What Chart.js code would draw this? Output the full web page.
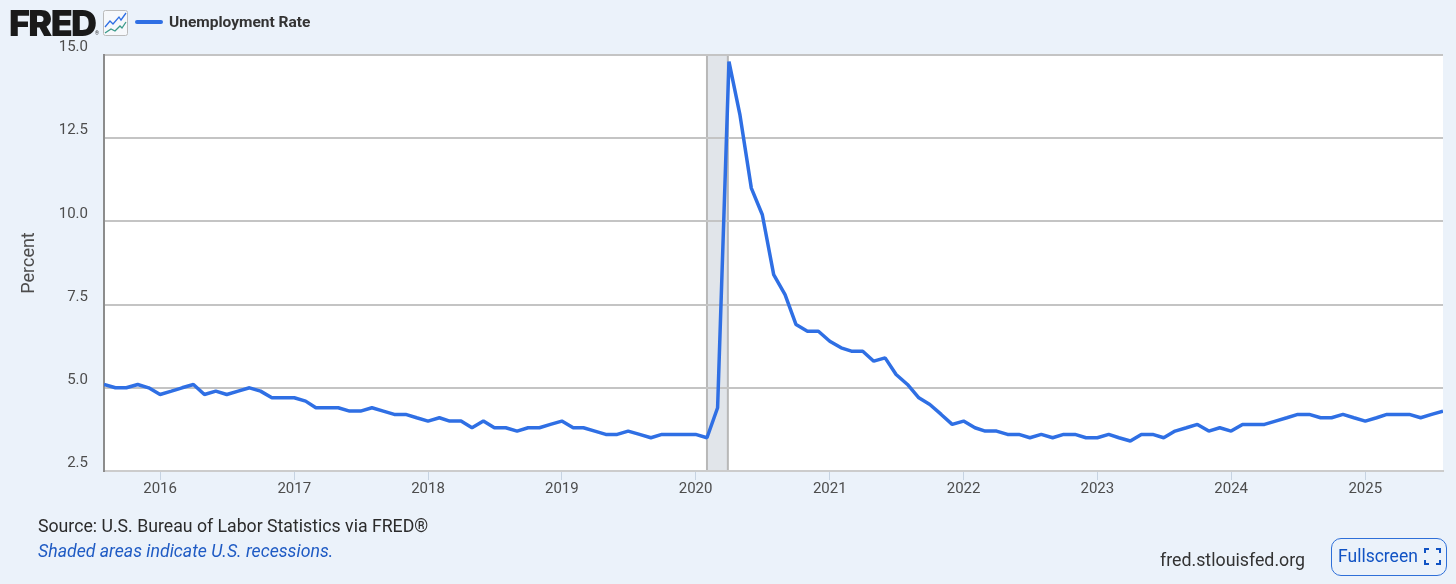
<!DOCTYPE html>
<html>
<head>
<meta charset="utf-8">
<title>Unemployment Rate</title>
<script src="https://cdn.jsdelivr.net/npm/chart.js@4"></script>
<style>
  html, body { margin: 0; padding: 0; }
  body { width: 1456px; height: 584px; background: #ebf2fa; position: relative; overflow: hidden; font-family: Roboto, sans-serif; }
  canvas { position: absolute; left: 0; top: 0; }
  .abs { position: absolute; white-space: nowrap; }
  #logo { left: 9px; top: 3px; font: 900 36px/40px Inter, sans-serif; letter-spacing: -1.7px; color: #1a1a1a; }
  #reg { left: 95px; top: 30px; font: 400 5px/6px Roboto, sans-serif; color: #333; }
  #legendLine { left: 135px; top: 20px; width: 28px; height: 4px; border-radius: 2px; background: #2f6fe4; }
  #legendText { left: 169px; top: 12px; font: 700 15.5px/20px Roboto, sans-serif; color: #333; }
  #source { left: 38px; top: 516px; font: 400 17.7px/20px Roboto, sans-serif; color: #2b2b2b; }
  #shaded { left: 38px; top: 541px; font: italic 400 17.7px/20px Roboto, sans-serif; color: #1f5bc4; }
  #site { left: 1160px; top: 550px; font: 400 17.8px/20px Roboto, sans-serif; color: #333; }
  #btn { left: 1331px; top: 538px; width: 114px; height: 36px; border: 1px solid #2e6fd8; border-radius: 10px; }
  #btnText { left: 1338px; top: 546px; font: 400 17.5px/20px Roboto, sans-serif; color: #1153c4; }
</style>
</head>
<body>
<canvas id="myChart" width="1456" height="584"></canvas>
<div class="abs" id="logo">FRED</div>
<div class="abs" id="reg">®</div>
<svg class="abs" style="left:103px;top:10px" width="25" height="26">
  <rect x="0.5" y="0.5" width="24" height="25" rx="2" fill="#f6f8fb" stroke="#bbbbbb"/>
  <polyline points="2,17 7,11 10,14 16,7 18,10 23,3" fill="none" stroke="#2f6fe4" stroke-width="1.3"/>
  <polyline points="2,23 8,19 12,21 17,16 19,18 23,12" fill="none" stroke="#3a9a8a" stroke-width="1.3"/>
</svg>
<div class="abs" id="legendLine"></div>
<div class="abs" id="legendText">Unemployment Rate</div>
<div class="abs" id="source">Source: U.S. Bureau of Labor Statistics via FRED®</div>
<div class="abs" id="shaded">Shaded areas indicate U.S. recessions.</div>
<div class="abs" id="site">fred.stlouisfed.org</div>
<div class="abs" id="btn"></div>
<div class="abs" id="btnText">Fullscreen</div>
<svg class="abs" style="left:1424px;top:548px" width="17" height="17" fill="none" stroke="#1153c4" stroke-width="2">
  <path d="M1 5V1H5M12 1H16V5M16 12V16H12M5 16H1V12"/>
</svg>
<script>
const startYear = 2015
const startMonth = 7  // Aug 2015, zero based
const unrate = [
  5.1, 5.0, 5.0, 5.1, 5.0,
  4.8, 4.9, 5.0, 5.1, 4.8, 4.9, 4.8, 4.9, 5.0, 4.9, 4.7, 4.7,
  4.7, 4.6, 4.4, 4.4, 4.4, 4.3, 4.3, 4.4, 4.3, 4.2, 4.2, 4.1,
  4.0, 4.1, 4.0, 4.0, 3.8, 4.0, 3.8, 3.8, 3.7, 3.8, 3.8, 3.9,
  4.0, 3.8, 3.8, 3.7, 3.6, 3.6, 3.7, 3.6, 3.5, 3.6, 3.6, 3.6,
  3.6, 3.5, 4.4, 14.8, 13.2, 11.0, 10.2, 8.4, 7.8, 6.9, 6.7, 6.7,
  6.4, 6.2, 6.1, 6.1, 5.8, 5.9, 5.4, 5.1, 4.7, 4.5, 4.2, 3.9,
  4.0, 3.8, 3.7, 3.7, 3.6, 3.6, 3.5, 3.6, 3.5, 3.6, 3.6, 3.5,
  3.5, 3.6, 3.5, 3.4, 3.6, 3.6, 3.5, 3.7, 3.8, 3.9, 3.7, 3.8,
  3.7, 3.9, 3.9, 3.9, 4.0, 4.1, 4.2, 4.2, 4.1, 4.1, 4.2, 4.1,
  4.0, 4.1, 4.2, 4.2, 4.2, 4.1, 4.2, 4.3
]
const yearTicks = [2016, 2017, 2018, 2019, 2020, 2021, 2022, 2023, 2024, 2025]
const yTicks = [2.5, 5.0, 7.5, 10.0, 12.5, 15.0]
const recession = [Date.UTC(2020, 1, 1), Date.UTC(2020, 2, 29)]

const points = unrate.map((v, i) => ({ x: Date.UTC(startYear, startMonth + i, 1), y: v }))

// white plot area and recession band, drawn before the grid so the grid stays on top
const plotBackground = {
  id: 'plotBackground',
  beforeDraw: (chart) => {
    const { ctx, chartArea, scales } = chart
    const x0 = scales.x.getPixelForValue(recession[0])
    const x1 = scales.x.getPixelForValue(recession[1])
    ctx.save()
    ctx.fillStyle = '#ffffff'
    ctx.fillRect(chartArea.left, chartArea.top, chartArea.width, chartArea.height)
    ctx.fillStyle = '#e1e5ea'
    ctx.fillRect(x0, chartArea.top, x1 - x0, chartArea.height)
    ctx.strokeStyle = '#b8b8b8'
    ctx.lineWidth = 2
    ctx.beginPath()
    ctx.moveTo(x0, chartArea.top)
    ctx.lineTo(x0, chartArea.bottom)
    ctx.moveTo(x1, chartArea.top)
    ctx.lineTo(x1, chartArea.bottom)
    ctx.stroke()
    ctx.restore()
  }
}

const myChart = new Chart(document.getElementById('myChart'), {
  type: 'line',
  data: {
    datasets: [{
      label: 'Unemployment Rate',
      data: points,
      borderColor: '#2f6fe4',
      borderWidth: 3.5,
      borderJoinStyle: 'bevel',
      pointRadius: 0,
      tension: 0
    }]
  },
  plugins: [plotBackground],
  options: {
    responsive: false,
    animation: false,
    devicePixelRatio: 1,
    layout: { padding: { top: 55, right: 13, left: 0, bottom: 0 } },
    plugins: { legend: { display: false }, tooltip: { enabled: false } },
    scales: {
      x: {
        type: 'linear',
        min: points[0].x,
        max: points[points.length - 1].x,
        afterFit: (s) => { s.height = 113 },
        afterBuildTicks: (s) => { s.ticks = yearTicks.map((y) => ({ value: Date.UTC(y, 0, 1) })) },
        grid: { drawOnChartArea: false, color: '#c6d3e2', tickLength: 9, tickWidth: 1 },
        border: { color: '#cccccc', width: 2 },
        ticks: {
          autoSkip: false,
          maxRotation: 0,
          padding: 0,
          color: '#4d4d4d',
          font: { family: 'Roboto', size: 15 },
          callback: (v) => new Date(v).getUTCFullYear()
        }
      },
      y: {
        min: 2.5,
        max: 15,
        afterFit: (s) => { s.width = 104 },
        afterBuildTicks: (s) => { s.ticks = yTicks.map((v) => ({ value: v })) },
        grid: { color: '#c4c4c4', lineWidth: 2, drawTicks: false },
        border: { color: '#8c8c8c', width: 2 },
        title: { display: true, text: 'Percent', color: '#4d4d4d', font: { family: 'Roboto', size: 18 }, padding: { top: 19, bottom: 0 } },
        ticks: {
          align: 'end',
          padding: 16,
          color: '#4d4d4d',
          font: { family: 'Roboto', size: 15 },
          callback: (v) => v.toFixed(1)
        }
      }
    }
  }
})
</script>
</body>
</html>
